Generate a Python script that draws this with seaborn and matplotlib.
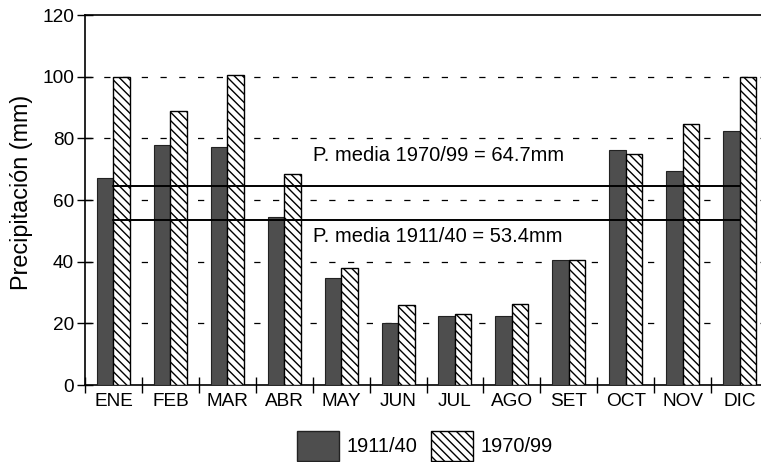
import pandas as pd
import numpy as np
import matplotlib
matplotlib.use("Agg")
import matplotlib.pyplot as plt
import seaborn as sns
from matplotlib.patches import Patch

# Data
meses = ["ENE", "FEB", "MAR", "ABR", "MAY", "JUN", "JUL", "AGO", "SET", "OCT", "NOV", "DIC"]
p_1911 = [67.0, 77.7, 77.3, 54.4, 34.7, 20.2, 22.3, 22.3, 40.7, 76.3, 69.4, 82.5]
p_1970 = [100.0, 89.0, 100.6, 68.3, 38.1, 25.9, 23.0, 26.2, 40.7, 75.0, 84.5, 100.0]
periodos = ["1911/40", "1970/99"]
media_1911 = 53.4
media_1970 = 64.7

df = pd.DataFrame({
    "mes": meses * 2,
    "periodo": [periodos[0]] * 12 + [periodos[1]] * 12,
    "prec": p_1911 + p_1970,
})

sns.set_style("white")
plt.rcParams['font.family'] = ['Liberation Sans', 'DejaVu Sans']
plt.rcParams['hatch.linewidth'] = 1.0
for k in ["text.color", "axes.labelcolor", "xtick.color", "ytick.color"]:
    plt.rcParams[k] = "black"

fig = plt.figure(figsize=(7.61, 4.62), dpi=100)
ax = fig.add_axes([85 / 761, 1 - 385 / 462, 683 / 761, 370 / 462])

sns.barplot(data=df, x="mes", y="prec", hue="periodo", order=meses, hue_order=periodos,
            width=0.58, ax=ax, legend=False, saturation=1)

# style bars: dark stippled vs white hatched
for bar in ax.containers[0]:
    bar.set_facecolor("#4e4e4e")
    bar.set_edgecolor("#222222")
    bar.set_linewidth(0.8)
    bar.set_zorder(3)
for bar in ax.containers[1]:
    bar.set_facecolor("white")
    bar.set_edgecolor("black")
    bar.set_hatch("\\\\\\\\")
    bar.set_linewidth(1.0)
    bar.set_zorder(3)

# dashed grid
for yv in [20, 40, 60, 80, 100]:
    ax.axhline(yv, color="black", lw=0.9, dashes=(5, 10), zorder=1)

# mean lines
ax.plot([0, 11], [media_1970, media_1970], color="black", lw=1.4, zorder=4)
ax.plot([0, 11], [media_1911, media_1911], color="black", lw=1.4, zorder=4)
ax.text(3.5, 74.5, "P. media 1970/99 = 64.7mm", fontsize=14.5, ha="left", va="center", zorder=5)
ax.text(3.5, 48.3, "P. media 1911/40 = 53.4mm", fontsize=14.5, ha="left", va="center", zorder=5)

ax.set_ylim(0, 120)
ax.set_xlim(-0.5, 11.5)
ax.set_yticks([0, 20, 40, 60, 80, 100, 120])
ax.tick_params(axis="y", direction="inout", length=12, width=1, labelsize=13.7, pad=2, left=True)
ax.set_xticks(range(12))
ax.set_xticklabels(meses)
ax.tick_params(axis="x", which="major", length=0, labelsize=13.7, pad=6)
ax.set_xticks(np.arange(-0.5, 11, 1), minor=True)
ax.tick_params(axis="x", which="minor", direction="inout", length=12, width=1, bottom=True)
ax.set_xlabel("")
ax.set_ylabel("Precipitación (mm)", fontsize=16.8)
ax.yaxis.set_label_coords(-0.076, 0.52)

for s in ["left", "bottom", "top"]:
    ax.spines[s].set_color("black")
    ax.spines[s].set_linewidth(1.2)
ax.spines["right"].set_visible(False)

handles = [
    Patch(facecolor="#4e4e4e", edgecolor="#222222", label=periodos[0]),
    Patch(facecolor="white", edgecolor="black", hatch="\\\\\\\\", label=periodos[1]),
]
fig.legend(handles=handles, loc="center", bbox_to_anchor=(425 / 761, 1 - 446 / 462), ncol=2,
           frameon=False, fontsize=14.4, handlelength=2.1, handleheight=2.0,
           columnspacing=0.65, handletextpad=0.4, borderpad=0)

fig.savefig("out.png", dpi=100)
